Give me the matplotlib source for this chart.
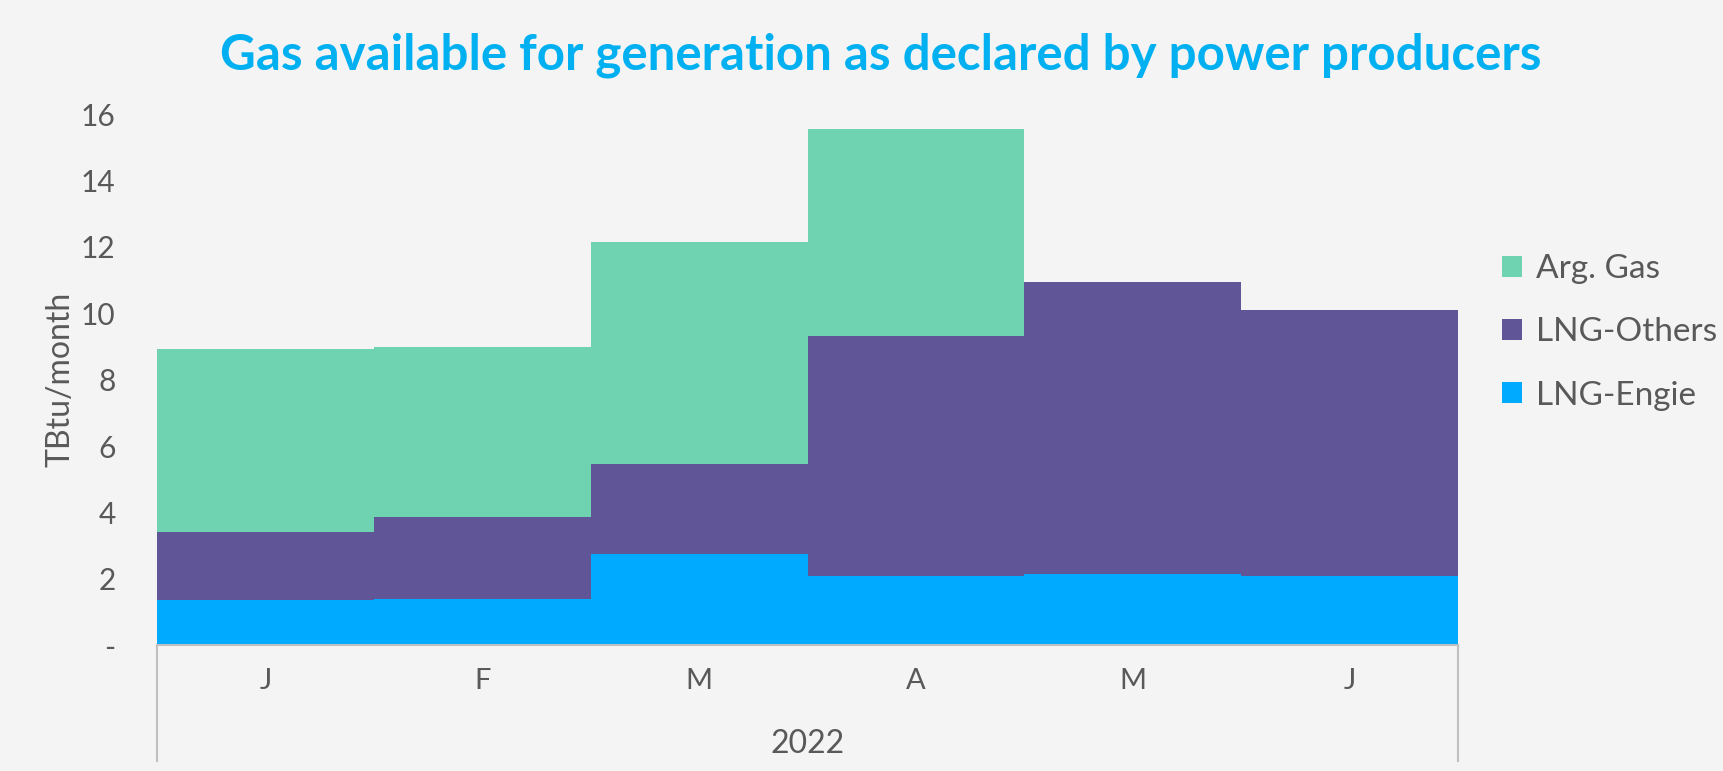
import matplotlib
matplotlib.use("Agg")
import matplotlib.pyplot as plt
from matplotlib.ticker import FuncFormatter
import numpy as np

# ---- data (TBtu/month) ----
months = ["J", "F", "M", "A", "M", "J"]
year_label = "2022"
lng_engie = [1.38, 1.40, 2.75, 2.10, 2.15, 2.09]
lng_others = [2.03, 2.47, 2.71, 7.22, 8.78, 8.01]
arg_gas = [5.53, 5.13, 6.69, 6.22, 0.0, 0.0]

BG = "#F4F4F4"
TXT = "#595959"
C_ENGIE = "#00AAFF"
C_OTHERS = "#5F5597"
C_ARG = "#6FD2B1"

plt.rcParams["font.family"] = ["Lato", "DejaVu Sans"]

fig = plt.figure(figsize=(17.24, 7.71), dpi=100, facecolor=BG)
ax = fig.add_axes([0.0912, 0.163, 0.7545, 0.689])
ax.set_facecolor(BG)

x = np.arange(len(months))
engie = np.array(lng_engie)
others = np.array(lng_others)
arg = np.array(arg_gas)

ax.bar(x, engie, width=1.0, color=C_ENGIE, label="LNG-Engie")
ax.bar(x, others, width=1.0, bottom=engie, color=C_OTHERS, label="LNG-Others")
ax.bar(x, arg, width=1.0, bottom=engie + others, color=C_ARG, label="Arg. Gas")

ax.set_xlim(-0.5, len(months) - 0.5)
ax.set_ylim(0, 16)
ax.set_yticks(range(0, 17, 2))
ax.yaxis.set_major_formatter(FuncFormatter(lambda v, p: "-" if v == 0 else f"{v:.0f}"))
ax.tick_params(axis="y", length=0, labelsize=21.5, labelcolor=TXT, pad=30)
ax.set_ylabel("TBtu/month", fontsize=23, color=TXT, labelpad=4)

for s in ["top", "right", "left"]:
    ax.spines[s].set_visible(False)
ax.spines["bottom"].set_color("#BFBFBF")
ax.spines["bottom"].set_linewidth(1.5)

# category axis: months then the year
ax.set_xticks([])
trans = ax.get_xaxis_transform()
for i, m in enumerate(months):
    ax.text(i, -0.068, m, transform=trans, ha="center", va="center",
            fontsize=21, color=TXT)
ax.text((len(months) - 1) / 2, -0.186, year_label, transform=trans,
        ha="center", va="center", fontsize=23, color=TXT)
for xe in [-0.5, len(months) - 0.5]:
    ax.plot([xe, xe], [0, -0.217], transform=trans, color="#BFBFBF",
            lw=1.5, clip_on=False)

handles, labels = ax.get_legend_handles_labels()
leg = fig.legend(handles[::-1], labels[::-1], loc="center left",
                 bbox_to_anchor=(0.854, 0.569), frameon=False, fontsize=24,
                 handlelength=0.6, handleheight=0.6, handletextpad=0.4,
                 labelspacing=1.0, labelcolor=TXT)

fig.suptitle("Gas available for generation as declared by power producers",
             x=0.511, y=0.958, fontsize=35.5, fontweight="bold", color="#00B0F0")

fig.savefig("out.png", dpi=100, facecolor=BG)
